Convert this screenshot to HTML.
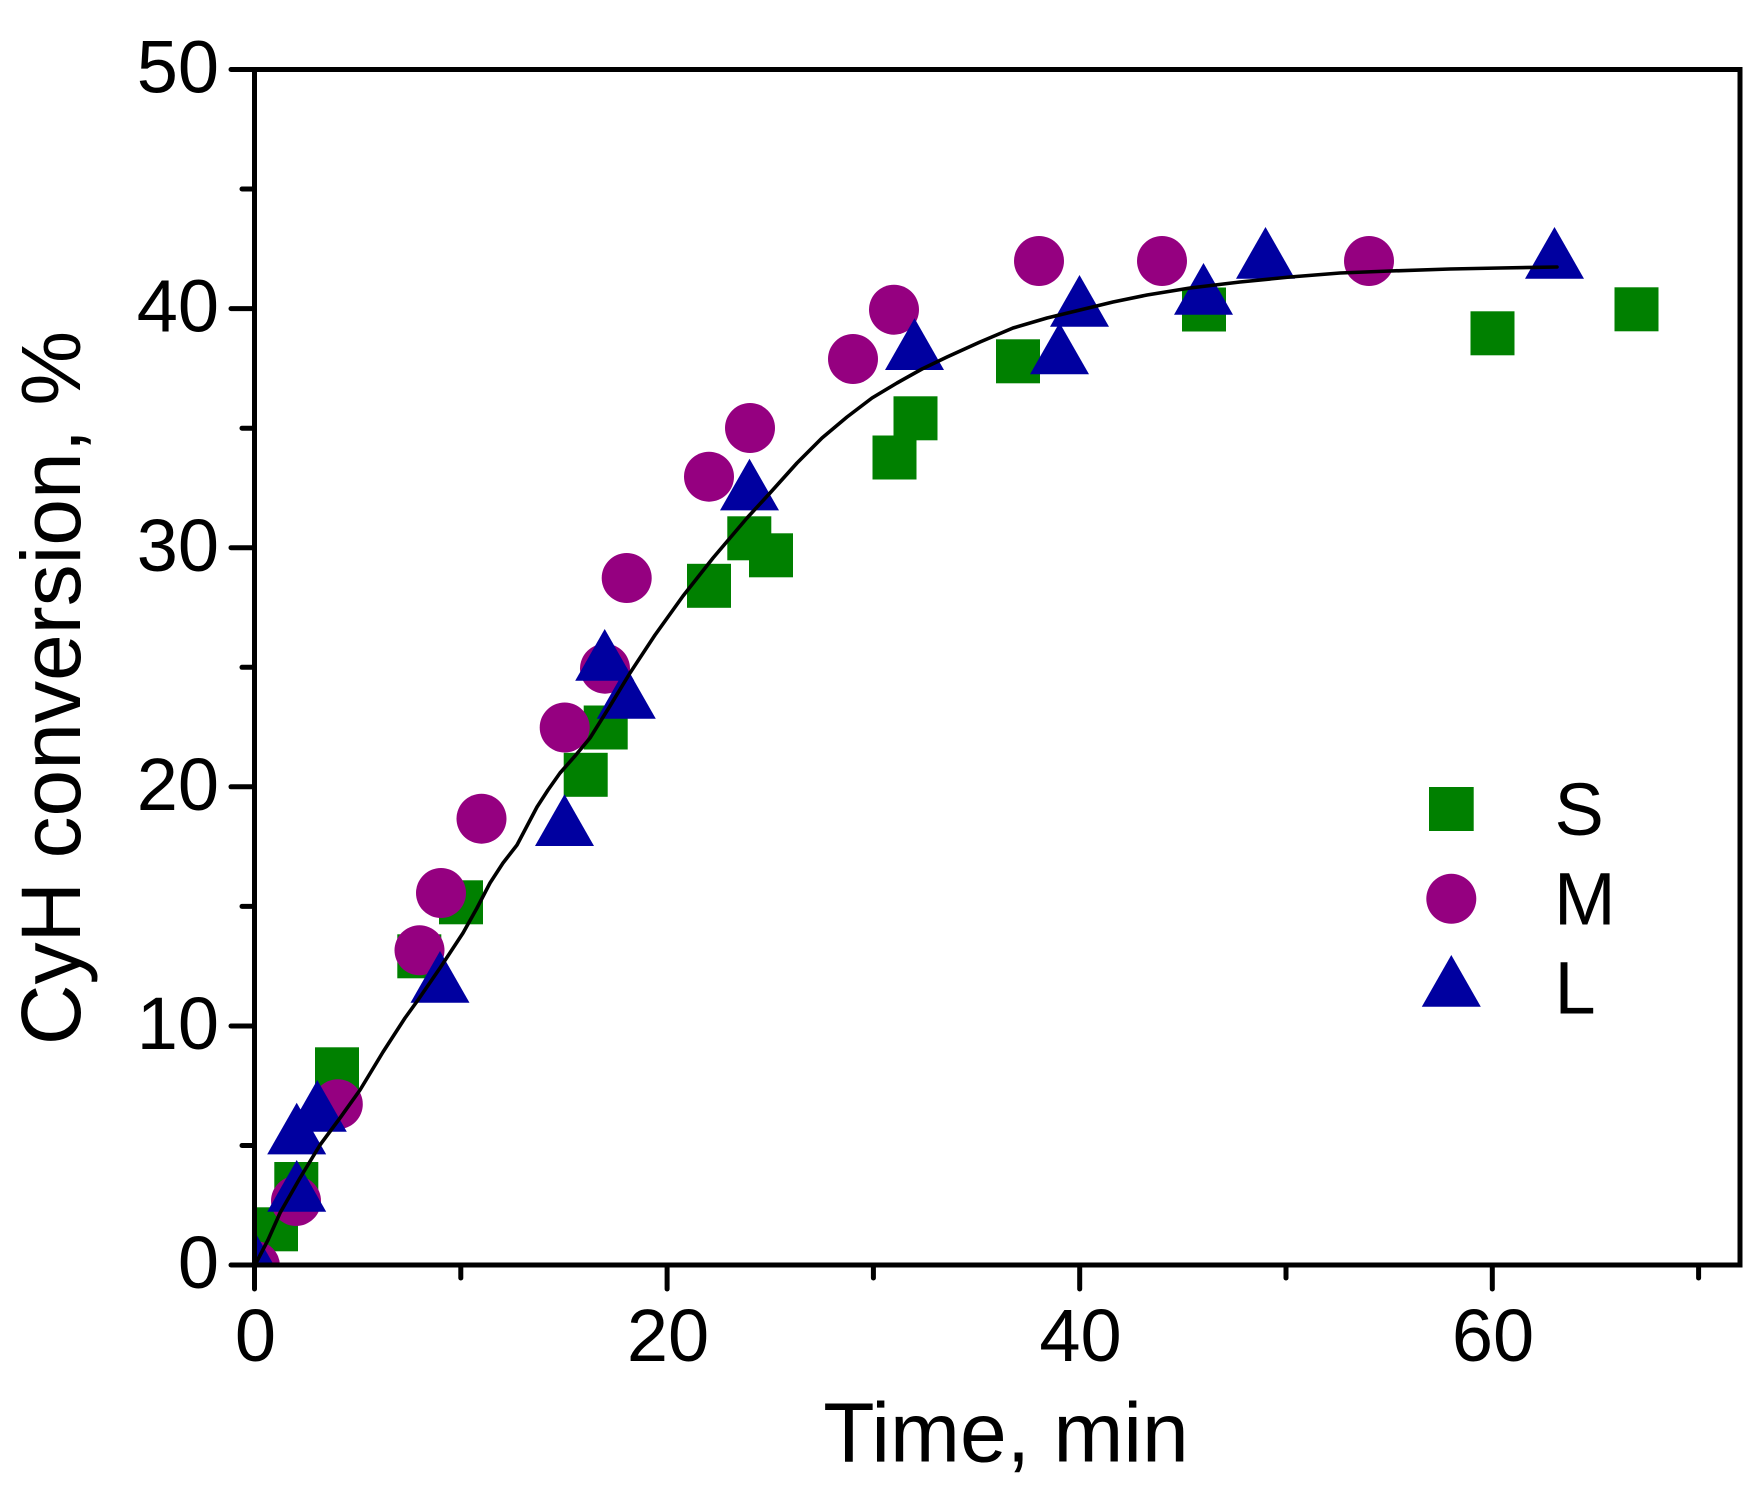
<!DOCTYPE html>
<html>
<head>
<meta charset="utf-8">
<style>
  html, body { margin: 0; padding: 0; background: #ffffff; }
  svg { display: block; }
  text { font-family: "Liberation Sans", Arial, sans-serif; fill: #000; }
</style>
</head>
<body>
<svg width="1759" height="1488" viewBox="0 0 1759 1488" xmlns="http://www.w3.org/2000/svg">
  <rect x="0" y="0" width="1759" height="1488" fill="#ffffff"/>
  <defs>
    <clipPath id="plot">
      <rect x="254.5" y="69.5" width="1485.5" height="1195.5"/>
    </clipPath>
  </defs>

  <g clip-path="url(#plot)">
    <!-- S squares -->
    <g fill="#008000">
      <rect x="254" y="1207.3" width="44" height="44"/>
      <rect x="274.3" y="1162" width="44" height="44"/>
      <rect x="315" y="1047.3" width="44" height="44"/>
      <rect x="397.3" y="934.3" width="44" height="44"/>
      <rect x="439" y="880.3" width="44" height="44"/>
      <rect x="563.7" y="752.8" width="44" height="44"/>
      <rect x="583.7" y="705.5" width="44" height="44"/>
      <rect x="687" y="563.8" width="44" height="44"/>
      <rect x="727.3" y="516.3" width="44" height="44"/>
      <rect x="749" y="533.3" width="44" height="44"/>
      <rect x="872.5" y="435.5" width="44" height="44"/>
      <rect x="893.5" y="396.3" width="44" height="44"/>
      <rect x="996" y="339.3" width="44" height="44"/>
      <rect x="1182" y="287.5" width="44" height="44"/>
      <rect x="1470.5" y="311.3" width="44" height="44"/>
      <rect x="1614.5" y="287.3" width="44" height="44"/>
    </g>
    <!-- M circles -->
    <g fill="#950080">
      <circle cx="255" cy="1266" r="25"/>
      <circle cx="296" cy="1201" r="25"/>
      <circle cx="337.8" cy="1104.2" r="25"/>
      <circle cx="419.5" cy="950.3" r="25"/>
      <circle cx="441" cy="893" r="25"/>
      <circle cx="481.5" cy="818.7" r="25"/>
      <circle cx="564.7" cy="727.5" r="25"/>
      <circle cx="605" cy="668.7" r="25"/>
      <circle cx="626.7" cy="578" r="25"/>
      <circle cx="709" cy="476.7" r="25"/>
      <circle cx="750" cy="428" r="25"/>
      <circle cx="853" cy="359" r="25"/>
      <circle cx="894" cy="309.7" r="25"/>
      <circle cx="1039" cy="261" r="25"/>
      <circle cx="1162" cy="261" r="25"/>
      <circle cx="1369" cy="261" r="25"/>
    </g>
    <!-- L triangles -->
    <g fill="#0000a0">
      <polygon points="255,1232 284.5,1283.7 225.5,1283.7"/>
      <polygon points="296.7,1160 326.2,1211.7 267.2,1211.7"/>
      <polygon points="296.7,1102.7 326.2,1154.4 267.2,1154.4"/>
      <polygon points="317.3,1080 346.8,1131.7 287.8,1131.7"/>
      <polygon points="440,951 469.5,1002.7 410.5,1002.7"/>
      <polygon points="564.5,794.3 594,846 535,846"/>
      <polygon points="604.7,629 634.2,680.7 575.2,680.7"/>
      <polygon points="626.3,667 655.8,718.7 596.8,718.7"/>
      <polygon points="749.5,458.7 779,510.4 720,510.4"/>
      <polygon points="914.5,318.3 944,370 885,370"/>
      <polygon points="1059.5,322.6 1089,374.3 1030,374.3"/>
      <polygon points="1079.5,275 1109,326.7 1050,326.7"/>
      <polygon points="1203.5,263 1233,314.7 1174,314.7"/>
      <polygon points="1265.5,227 1295,278.7 1236,278.7"/>
      <polygon points="1554.5,227 1584,278.7 1525,278.7"/>
    </g>
    <!-- fit line -->
    <polyline fill="none" stroke="#000" stroke-width="3.6" stroke-linejoin="round" stroke-linecap="round"
      points="255,1265 268,1240 280,1213 300,1178 320,1145 340,1118 360,1090 383,1052 405,1018 418,1000 440,968 463,933 477,908 490,883 503,863 517,845 527,826 537,807 548,790 560,773 575,756 590,738 610,706 630,673 655,635 683,596 713,558 747,518 770,493 797,463 822,438 847,417 872,398 897,383 922,369 947,357 980,342 1013,328 1047,318 1080,310 1113,302 1147,295 1190,288 1240,282 1290,277 1340,273 1390,271 1450,269 1500,268 1557,267"/>
  </g>

  <!-- frame -->
  <rect x="254.5" y="69.5" width="1485.5" height="1195.5" fill="none" stroke="#000" stroke-width="5"/>

  <!-- y ticks -->
  <g stroke="#000" stroke-width="5" stroke-linecap="round">
    <line x1="231" y1="1265" x2="254" y2="1265"/>
    <line x1="231" y1="1026" x2="254" y2="1026"/>
    <line x1="231" y1="786.8" x2="254" y2="786.8"/>
    <line x1="231" y1="547.7" x2="254" y2="547.7"/>
    <line x1="231" y1="308.6" x2="254" y2="308.6"/>
    <line x1="231" y1="69.5" x2="254" y2="69.5"/>
    <line x1="242" y1="1145.5" x2="254" y2="1145.5"/>
    <line x1="242" y1="906.4" x2="254" y2="906.4"/>
    <line x1="242" y1="667.3" x2="254" y2="667.3"/>
    <line x1="242" y1="428.2" x2="254" y2="428.2"/>
    <line x1="242" y1="189" x2="254" y2="189"/>
  </g>
  <!-- x ticks -->
  <g stroke="#000" stroke-width="5" stroke-linecap="round">
    <line x1="254.5" y1="1266" x2="254.5" y2="1289"/>
    <line x1="667.1" y1="1266" x2="667.1" y2="1289"/>
    <line x1="1079.7" y1="1266" x2="1079.7" y2="1289"/>
    <line x1="1492.3" y1="1266" x2="1492.3" y2="1289"/>
    <line x1="460.8" y1="1266" x2="460.8" y2="1278"/>
    <line x1="873.4" y1="1266" x2="873.4" y2="1278"/>
    <line x1="1286" y1="1266" x2="1286" y2="1278"/>
    <line x1="1698.6" y1="1266" x2="1698.6" y2="1278"/>
  </g>

  <!-- y tick labels -->
  <g font-size="74" text-anchor="end">
    <text x="219" y="1288">0</text>
    <text x="219" y="1049">10</text>
    <text x="219" y="810">20</text>
    <text x="219" y="571">30</text>
    <text x="219" y="331.5">40</text>
    <text x="219" y="92.5">50</text>
  </g>
  <!-- x tick labels -->
  <g font-size="74" text-anchor="middle">
    <text x="255.5" y="1361">0</text>
    <text x="668" y="1361">20</text>
    <text x="1080.5" y="1361">40</text>
    <text x="1493" y="1361">60</text>
  </g>

  <!-- axis titles -->
  <text x="1006" y="1461.7" font-size="84" text-anchor="middle">Time, min</text>
  <text transform="translate(80,688) rotate(-90)" font-size="84" text-anchor="middle">CyH conversion, %</text>

  <!-- legend -->
  <rect x="1429" y="787" width="44.7" height="44" fill="#008000"/>
  <circle cx="1451.3" cy="898.8" r="25" fill="#950080"/>
  <polygon points="1451.3,955 1480.8,1006.7 1421.8,1006.7" fill="#0000a0"/>
  <g font-size="74">
    <text x="1554.5" y="835">S</text>
    <text x="1554" y="924.3">M</text>
    <text x="1554.5" y="1013.3">L</text>
  </g>
</svg>
</body>
</html>
